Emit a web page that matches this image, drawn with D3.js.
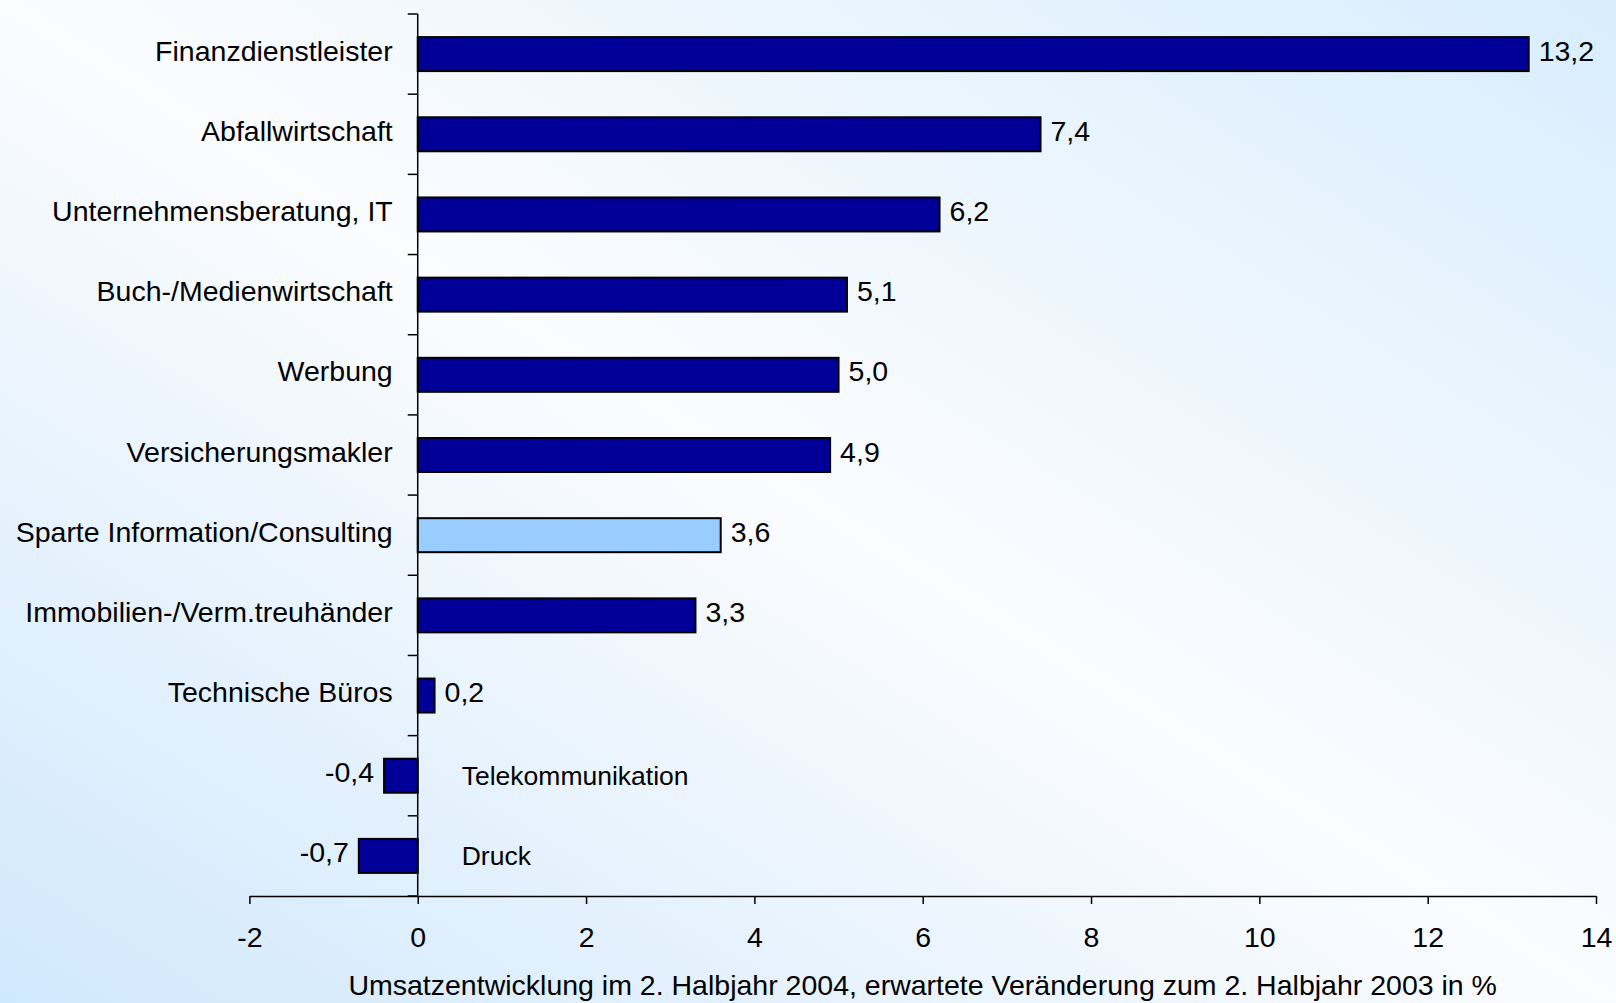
<!DOCTYPE html>
<html>
<head>
<meta charset="utf-8">
<script src="https://cdn.jsdelivr.net/npm/d3@7"></script>
<style>
  html, body { margin: 0; padding: 0; }
  body { width: 1616px; height: 1003px; overflow: hidden; }
  svg { display: block; font-family: "Liberation Sans", Arial, sans-serif; }
</style>
</head>
<body>
<svg id="chart" width="1616" height="1003"></svg>
<script>
// ---- data ----
const categories = [
  "Finanzdienstleister",
  "Abfallwirtschaft",
  "Unternehmensberatung, IT",
  "Buch-/Medienwirtschaft",
  "Werbung",
  "Versicherungsmakler",
  "Sparte Information/Consulting",
  "Immobilien-/Verm.treuhänder",
  "Technische Büros",
  "Telekommunikation",
  "Druck"
];
const values = [13.2, 7.4, 6.2, 5.1, 5.0, 4.9, 3.6, 3.3, 0.2, -0.4, -0.7];
const highlighted = ["Sparte Information/Consulting"];
const xTickValues = [-2, 0, 2, 4, 6, 8, 10, 12, 14];
const xAxisTitle = "Umsatzentwicklung im 2. Halbjahr 2004, erwartete Veränderung zum 2. Halbjahr 2003 in %";

// ---- layout ----
const W = 1616, H = 1003;
const plot = { left: 249.4, right: 1596, top: 14, bottom: 896 };
const svg = d3.select("#chart");

// background gradient
const defs = svg.append("defs");
const grad = defs.append("linearGradient").attr("id", "bg")
  .attr("x1", 0).attr("y1", 1).attr("x2", 1).attr("y2", 0);
grad.append("stop").attr("offset", 0).attr("stop-color", "#d0e8fc");
grad.append("stop").attr("offset", 0.5).attr("stop-color", "#fbfcfe");
grad.append("stop").attr("offset", 1).attr("stop-color", "#d8edfd");
svg.append("rect").attr("width", W).attr("height", H).attr("fill", "url(#bg)");

const x = d3.scaleLinear().domain([-2, 14]).range([plot.left, plot.right]);
const y = d3.scaleBand().domain(categories).range([plot.top, plot.bottom])
  .paddingInner(0.576).paddingOuter(0.288);

const data = categories.map((c, i) => ({ cat: c, value: values[i] }));
const fmt = v => v.toFixed(1).replace(".", ",");
const fontSize = 28.5;

// bars
svg.append("g").selectAll("rect").data(data).join("rect")
  .attr("x", d => x(Math.min(0, d.value)))
  .attr("y", d => y(d.cat))
  .attr("width", d => Math.abs(x(d.value) - x(0)))
  .attr("height", y.bandwidth())
  .attr("fill", d => highlighted.includes(d.cat) ? "#99ccff" : "#000099")
  .attr("stroke", "#000")
  .attr("stroke-width", 2);

// value labels
svg.append("g").selectAll("text").data(data).join("text")
  .attr("x", d => d.value >= 0 ? x(d.value) + 10 : x(d.value) - 10)
  .attr("y", d => y(d.cat) + y.bandwidth() / 2 + 6.5)
  .attr("text-anchor", d => d.value >= 0 ? "start" : "end")
  .attr("font-size", fontSize)
  .attr("fill", "#000")
  .text(d => fmt(d.value));

// x axis
const xAxis = d3.axisBottom(x).tickValues(xTickValues).tickSize(8).tickSizeOuter(0)
  .tickFormat(d => String(d)).tickPadding(0);
const gx = svg.append("g").attr("transform", `translate(0,${plot.bottom})`).call(xAxis);
gx.select(".domain").attr("stroke", "#000").attr("stroke-width", 1.5);
gx.selectAll(".tick line").attr("stroke", "#000").attr("stroke-width", 1.5);
gx.selectAll(".tick text").attr("font-size", fontSize).attr("fill", "#000")
  .attr("font-family", "Liberation Sans, Arial, sans-serif")
  .attr("dy", null).attr("y", 51);

// y axis (category axis at zero)
const gy = svg.append("g");
gy.append("line").attr("x1", x(0)).attr("x2", x(0))
  .attr("y1", plot.top).attr("y2", plot.bottom)
  .attr("stroke", "#000").attr("stroke-width", 1.5);
const step = y.step();
const boundaries = d3.range(categories.length + 1).map(i => y(categories[0]) - step * y.paddingInner() / 2 + i * step);
gy.selectAll("line.tk").data(boundaries).join("line").attr("class", "tk")
  .attr("x1", x(0) - 10).attr("x2", x(0))
  .attr("y1", d => d).attr("y2", d => d)
  .attr("stroke", "#000").attr("stroke-width", 1.5);

// category labels (left of axis for positives, inside plot for negatives)
svg.append("g").selectAll("text").data(data).join("text")
  .attr("x", d => d.value >= 0 ? x(0) - 25 : x(0) + 44)
  .attr("y", d => y(d.cat) + y.bandwidth() / 2 + (d.value >= 0 ? 6.5 : 9.5))
  .attr("text-anchor", d => d.value >= 0 ? "end" : "start")
  .attr("font-size", d => d.value >= 0 ? fontSize : 26.5)
  .attr("fill", "#000")
  .text(d => d.cat);

// axis title
svg.append("text")
  .attr("x", (plot.left + plot.right) / 2)
  .attr("y", 995)
  .attr("text-anchor", "middle")
  .attr("font-size", fontSize)
  .attr("fill", "#000")
  .text(xAxisTitle);
</script>
</body>
</html>
